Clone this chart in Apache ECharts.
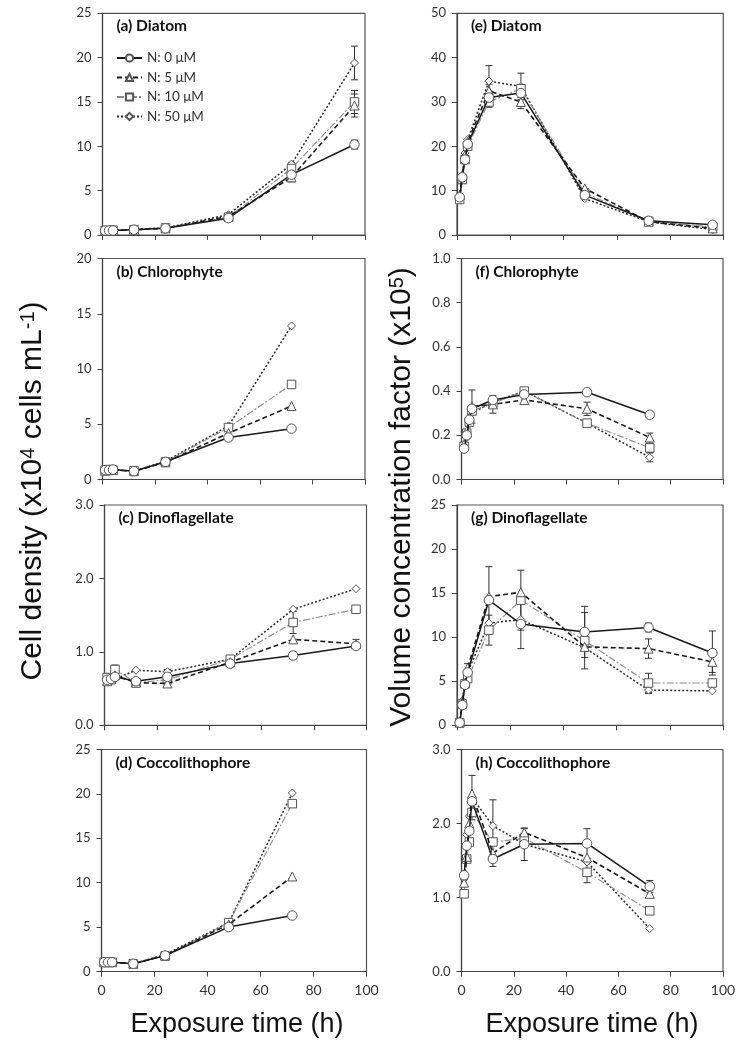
<!DOCTYPE html>
<html><head><meta charset="utf-8">
<script src="https://cdn.jsdelivr.net/npm/echarts@6/dist/echarts.min.js"></script>
<style>html,body{margin:0;padding:0;background:#fff}#c{width:744px;height:1050px}</style>
</head><body><div id="c"></div>
<script>
// ---------- data ----------
const seriesNames = ['N: 0 μM', 'N: 5 μM', 'N: 10 μM', 'N: 50 μM'];
const timeL8 = [1, 2.5, 4, 12, 24, 48, 72, 96];
const timeL7 = [1, 2.5, 4, 12, 24, 48, 72];
const timeR9 = [1, 2, 3, 4, 12, 24, 48, 72, 96];
const timeR8 = [1, 2, 3, 4, 12, 24, 48, 72];
const xTicks = [0, 20, 40, 60, 80, 100];

// (a) Diatom cell density
const a0 = [0.5, 0.5, 0.5, 0.6, 0.75, 1.9, 6.8, 10.2];
const a5 = [0.45, 0.5, 0.5, 0.6, 0.75, 2.1, 6.5, 14.6];
const a10 = [0.5, 0.5, 0.55, 0.6, 0.8, 2.0, 7.5, 15.0];
const a50 = [0.55, 0.5, 0.5, 0.65, 0.8, 2.3, 8.0, 19.4];
const aE0 = [0, 0, 0, 0, 0, 0.1, 0.2, 0.5];
const aE5 = [0, 0, 0, 0, 0, 0, 0.5, 1.3];
const aE10 = [0, 0, 0, 0, 0, 0, 0.3, 1.3];
const aE50 = [0, 0, 0, 0, 0, 0, 0.2, 1.9];
// (b) Chlorophyte cell density
const b0 = [0.85, 0.85, 0.9, 0.75, 1.6, 3.8, 4.6];
const b5 = [0.8, 0.85, 0.85, 0.75, 1.55, 4.2, 6.65];
const b10 = [0.85, 0.9, 0.85, 0.8, 1.6, 4.7, 8.6];
const b50 = [0.85, 0.85, 0.9, 0.75, 1.65, 4.85, 13.9];
// (c) Dinoflagellate cell density
const c0 = [0.62, 0.63, 0.66, 0.60, 0.66, 0.84, 0.95, 1.08];
const c5 = [0.60, 0.65, 0.68, 0.58, 0.57, 0.86, 1.17, 1.11];
const c10 = [0.65, 0.62, 0.76, 0.58, 0.62, 0.90, 1.40, 1.58];
const c50 = [0.66, 0.60, 0.63, 0.75, 0.73, 0.90, 1.58, 1.86];
const cE0 = [0, 0, 0, 0, 0, 0, 0.05, 0.04];
const cE5 = [0, 0, 0, 0, 0, 0, 0, 0.06];
const cE10 = [0, 0, 0.06, 0, 0.03, 0, 0.15, 0];
const cE50 = [0, 0, 0, 0, 0.03, 0, 0, 0];
// (d) Coccolithophore cell density
const d0 = [1.05, 1.05, 1.05, 0.87, 1.8, 5.0, 6.3];
const d5 = [1.05, 1.05, 1.05, 0.87, 1.8, 5.3, 10.7];
const d10 = [1.05, 1.05, 1.05, 0.87, 1.75, 5.5, 18.9];
const d50 = [1.05, 1.05, 1.05, 0.87, 1.9, 5.5, 20.1];
// (e) Diatom VCF
const e0 = [8.5, 13, 17, 20.5, 31, 32, 9.0, 3.2, 2.3];
const e5 = [9, 13.5, 18, 21, 32.5, 30, 10.5, 3.0, 1.5];
const e10 = [8, 12.5, 17, 20, 30, 33, 9.5, 3.1, 1.8];
const e50 = [8, 13, 18.5, 21.5, 34.7, 33.5, 8.2, 3.0, 1.2];
const eE0 = [0, 0, 0, 0, 1.5, 1.0, 0, 0, 0.3];
const eE5 = [0, 0, 0, 0, 1.5, 1.5, 0, 0, 0];
const eE10 = [0, 0, 0, 0, 1.2, 0, 0, 0, 0];
const eE50 = [0, 0, 0, 0, 3.5, 3.0, 0, 0, 0];
// (f) Chlorophyte VCF
const f0 = [0.14, 0.20, 0.27, 0.32, 0.36, 0.385, 0.395, 0.293];
const f5 = [0.16, 0.22, 0.28, 0.33, 0.34, 0.36, 0.32, 0.19];
const f10 = [0.15, 0.21, 0.26, 0.31, 0.345, 0.40, 0.255, 0.143];
const f50 = [0.14, 0.19, 0.25, 0.30, 0.35, 0.40, 0.255, 0.10];
const fE5 = [0, 0, 0, 0.075, 0.04, 0, 0.03, 0.02];
const fE10 = [0, 0, 0, 0, 0, 0, 0, 0.02];
const fE50 = [0, 0, 0, 0, 0, 0, 0, 0.02];
// (g) Dinoflagellate VCF
const g0 = [0.3, 2.3, 4.6, 6.0, 14.2, 11.5, 10.6, 11.1, 8.2];
const g5 = [0.3, 2.6, 4.8, 6.5, 14.6, 15.1, 8.9, 8.7, 7.2];
const g10 = [0.3, 2.4, 4.7, 5.3, 10.8, 14.2, 9.6, 4.8, 4.8];
const g50 = [0.4, 2.8, 5.0, 6.0, 11.6, 12.0, 8.8, 4.0, 3.9];
const gE0 = [0, 0, 0, 0, 0, 2.8, 2.9, 0.5, 2.5];
const gE5 = [0, 0, 0, 0.5, 3.4, 0, 0, 1.1, 1.2];
const gE10 = [0, 0, 0, 0, 1.7, 3.4, 3.2, 1.1, 0];
const gE50 = [0, 0, 0, 0, 0, 0, 0, 0.4, 0];
// (h) Coccolithophore VCF
const h0 = [1.3, 1.7, 1.9, 2.3, 1.52, 1.72, 1.73, 1.15];
const h5 = [1.2, 1.55, 2.0, 2.4, 1.6, 1.88, 1.54, 1.05];
const h10 = [1.05, 1.52, 1.75, 2.15, 1.75, 1.8, 1.34, 0.82];
const h50 = [1.25, 1.85, 2.1, 2.35, 1.97, 1.72, 1.48, 0.58];
const hE0 = [0, 0, 0, 0, 0.1, 0, 0.2, 0.08];
const hE5 = [0, 0, 0, 0, 0, 0.05, 0, 0.05];
const hE10 = [0, 0, 0, 0, 0, 0, 0.14, 0];
const hE50 = [0, 0, 0, 0.3, 0.35, 0.22, 0, 0];

const panelTitles = ['(a) Diatom', '(b) Chlorophyte', '(c) Dinoflagellate', '(d) Coccolithophore',
  '(e) Diatom', '(f) Chlorophyte', '(g) Dinoflagellate', '(h) Coccolithophore'];

// ---------- layout ----------
const panels = [
  { t: timeL8, v: [a0, a5, a10, a50], e: [aE0, aE5, aE10, aE50], max: 25, step: 5, dec: 0, g: { left: 102.5, top: 13.3, width: 262.5, height: 221.7 }, xl: false },
  { t: timeL7, v: [b0, b5, b10, b50], e: null, max: 20, step: 5, dec: 0, g: { left: 102.5, top: 258.5, width: 262.5, height: 221 }, xl: false },
  { t: timeL8, v: [c0, c5, c10, c50], e: [cE0, cE5, cE10, cE50], max: 3, step: 1, dec: 1, g: { left: 104.5, top: 505, width: 262, height: 220.3 }, xl: false },
  { t: timeL7, v: [d0, d5, d10, d50], e: null, max: 25, step: 5, dec: 0, g: { left: 101.5, top: 749.5, width: 265, height: 222 }, xl: true },
  { t: timeR9, v: [e0, e5, e10, e50], e: [eE0, eE5, eE10, eE50], max: 50, step: 10, dec: 0, g: { left: 457, top: 13.3, width: 266.3, height: 221.7 }, xl: false },
  { t: timeR8, v: [f0, f5, f10, f50], e: [null, fE5, fE10, fE50], max: 1, step: 0.2, dec: 1, g: { left: 461.5, top: 258.5, width: 261.5, height: 221 }, xl: false },
  { t: timeR9, v: [g0, g5, g10, g50], e: [gE0, gE5, gE10, gE50], max: 25, step: 5, dec: 0, g: { left: 457, top: 505, width: 266, height: 220.3 }, xl: false },
  { t: timeR8, v: [h0, h5, h10, h50], e: [hE0, hE5, hE10, hE50], max: 3, step: 1, dec: 1, g: { left: 461.5, top: 749.5, width: 261.5, height: 222 }, xl: true }
];

const styles = [
  { symbol: 'circle', size: 9.5, line: { color: '#1a1a1a', width: 1.5, type: 'solid' } },
  { symbol: 'triangle', size: 9, line: { color: '#1a1a1a', width: 1.6, type: [5, 3] } },
  { symbol: 'rect', size: 8.5, line: { color: '#8a8a8a', width: 1.1, type: [7, 2, 2, 2] } },
  { symbol: 'diamond', size: 8, line: { color: '#2a2a2a', width: 1.5, type: [2, 2] } }
];

const TF = 'Lato';
const grids = [], xAxes = [], yAxes = [], series = [], graphics = [];

panels.forEach((p, i) => {
  grids.push(Object.assign({ show: true, borderColor: '#555', borderWidth: 1.2, backgroundColor: 'transparent' }, p.g));
  xAxes.push({
    type: 'value', gridIndex: i, min: 0, max: 100, interval: 20,
    axisLine: { show: true, onZero: false, lineStyle: { color: '#444', width: 1.2 } },
    axisTick: { show: true, inside: false, length: 5, lineStyle: { color: '#444' } },
    axisLabel: { show: p.xl, margin: 12, fontFamily: TF, fontSize: 14, color: '#333' },
    splitLine: { show: false }
  });
  yAxes.push({
    type: 'value', gridIndex: i, min: 0, max: p.max, interval: p.step,
    axisLine: { show: true, onZero: false, lineStyle: { color: '#444', width: 1.2 } },
    axisTick: { show: true, inside: false, length: 5, lineStyle: { color: '#444' } },
    axisLabel: { show: true, margin: 11, fontFamily: TF, fontSize: 13, color: '#333',
      formatter: v => v.toFixed(p.dec) },
    splitLine: { show: false }
  });
  // error bars
  const errData = [];
  if (p.e) {
    p.e.forEach((arr, s) => {
      if (!arr) return;
      arr.forEach((er, k) => {
        if (er > 0) errData.push([p.t[k], p.v[s][k] - er, p.v[s][k] + er]);
      });
    });
  }
  if (errData.length) {
    series.push({
      type: 'custom', xAxisIndex: i, yAxisIndex: i, z: 1, silent: true, animation: false,
      data: errData,
      renderItem: (params, api) => {
        const x = api.value(0);
        const p1 = api.coord([x, api.value(1)]);
        const p2 = api.coord([x, api.value(2)]);
        const w = 3.5, st = { stroke: '#333', lineWidth: 1 };
        return { type: 'group', children: [
          { type: 'line', shape: { x1: p1[0], y1: p1[1], x2: p2[0], y2: p2[1] }, style: st },
          { type: 'line', shape: { x1: p1[0] - w, y1: p1[1], x2: p1[0] + w, y2: p1[1] }, style: st },
          { type: 'line', shape: { x1: p2[0] - w, y1: p2[1], x2: p2[0] + w, y2: p2[1] }, style: st }
        ] };
      }
    });
  }
  p.v.forEach((vals, s) => {
    const st = styles[s];
    series.push({
      type: 'line', name: seriesNames[s], xAxisIndex: i, yAxisIndex: i,
      data: p.t.map((x, k) => [x, vals[k]]),
      symbol: st.symbol, symbolSize: st.size, showSymbol: true, showAllSymbol: true,
      lineStyle: st.line,
      itemStyle: { color: '#fff', borderColor: '#555', borderWidth: 1 },
      emphasis: { disabled: true }, animation: false, z: 2 + (3 - s) * 0.1
    });
  });
  graphics.push({
    type: 'text', left: p.g.left + 14, top: p.g.top + 5,
    style: { text: panelTitles[i], fontFamily: TF, fontWeight: 'bold', fontSize: 15.5, fill: '#111' }
  });
});

const supRich = {
  a: { fontFamily: 'Liberation Sans', fontSize: 30, fill: '#111' },
  s: { fontFamily: 'Liberation Sans', fontSize: 20, fill: '#111', verticalAlign: 'top', padding: [0, 0, 8, 0] }
};
graphics.push({
  type: 'text', x: 33, y: 491, rotation: Math.PI / 2,
  style: {
    text: '{a|Cell density (x10}{s|4}{a| cells mL}{s|-1}{a|)}',
    align: 'center', verticalAlign: 'middle', fill: '#111', rich: supRich
  }
});
graphics.push({
  type: 'text', x: 402, y: 497, rotation: Math.PI / 2,
  style: {
    text: '{a|Volume concentration factor (x10}{s|5}{a|)}',
    align: 'center', verticalAlign: 'middle', fill: '#111', rich: supRich
  }
});
graphics.push({
  type: 'text', x: 237, y: 1025,
  style: { text: 'Exposure time (h)', fontFamily: 'Liberation Sans', fontSize: 27, fill: '#111', align: 'center', verticalAlign: 'middle' }
});
graphics.push({
  type: 'text', x: 592, y: 1025,
  style: { text: 'Exposure time (h)', fontFamily: 'Liberation Sans', fontSize: 27, fill: '#111', align: 'center', verticalAlign: 'middle' }
});

const chart = echarts.init(document.getElementById('c'), null, { renderer: 'canvas' });
chart.setOption({
  backgroundColor: '#fff',
  animation: false,
  grid: grids, xAxis: xAxes, yAxis: yAxes, series: series,
  legend: {
    data: seriesNames, orient: 'vertical', left: 111, top: 46,
    itemWidth: 25, itemHeight: 9, itemGap: 5.5, selectedMode: false,
    textStyle: { fontFamily: TF, fontSize: 13.5, color: '#333' }
  },
  graphic: graphics
});
</script></body></html>
